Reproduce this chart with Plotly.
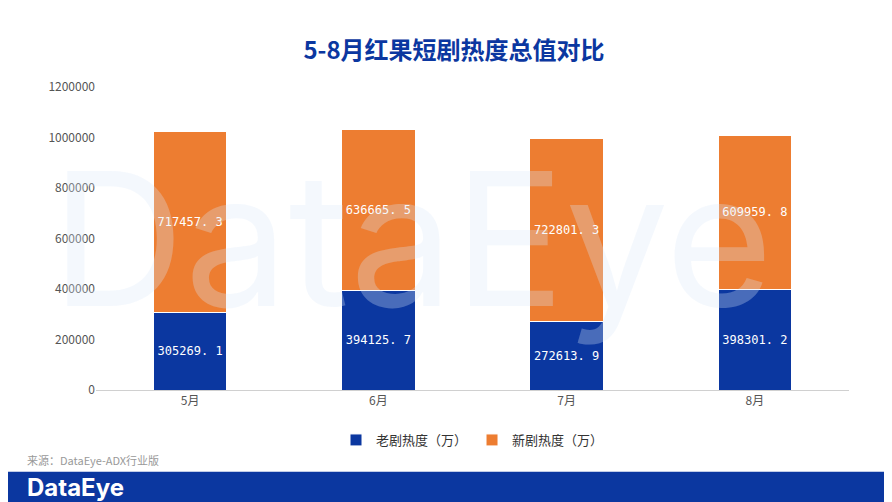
import plotly.graph_objects as go

months = ["5月", "6月", "7月", "8月"]
old_heat = [305269.1, 394125.7, 272613.9, 398301.2]
new_heat = [717457.3, 636665.5, 722801.3, 609959.8]
old_labels = ["305269. 1", "394125. 7", "272613. 9", "398301. 2"]
new_labels = ["717457. 3", "636665. 5", "722801. 3", "609959. 8"]
blue = "#0b37a0"
orange = "#ed7d31"
mono = "DejaVu Sans Mono, monospace"

fig = go.Figure()
fig.add_bar(x=months, y=old_heat, name="老剧热度（万）", marker=dict(color=blue, line=dict(color="white", width=1)),
            text=old_labels, textposition="inside", insidetextanchor="middle", textangle=0,
            textfont=dict(color="white", size=12, family=mono))
fig.add_bar(x=months, y=new_heat, name="新剧热度（万）", marker=dict(color=orange, line=dict(color="white", width=1)),
            text=new_labels, textposition="inside", insidetextanchor="middle", textangle=0,
            textfont=dict(color="white", size=12, family=mono))

fig.update_layout(
    barmode="stack", bargap=0.61, width=892, height=502,
    margin=dict(l=88, r=51, t=79, b=120),
    plot_bgcolor="rgba(0,0,0,0)", paper_bgcolor="white",
    font=dict(family="Noto Sans CJK SC", color="#555555", size=12),
    title=dict(text="<b>5-8月红果短剧热度总值对比</b>", x=0.5, xanchor="center", y=0.916, yanchor="middle",
               font=dict(size=24, color="#0b37a0")),
    legend=dict(orientation="h", traceorder="normal", x=0.5, xanchor="center", y=-0.165, yanchor="middle",
                font=dict(size=13, color="#333")),
    yaxis=dict(range=[0, 1200000], dtick=200000, showgrid=False, tickformat="d", zeroline=False,
               ticks="", tickfont=dict(size=12)),
    xaxis=dict(showline=True, linecolor="#d0d0d0", tickfont=dict(size=12)),
    shapes=[dict(type="rect", xref="paper", yref="paper", x0=-0.2, x1=1.1, y0=-0.45, y1=-0.27,
                 fillcolor=blue, line=dict(width=0), layer="above")],
    annotations=[
        dict(text="DataEye", xref="paper", yref="paper", x=0.42, y=0.5, showarrow=False,
             font=dict(size=185, color="rgba(220,232,248,0.3)", family="Inter")),
        dict(text="来源：DataEye-ADX行业版", xref="paper", yref="paper", x=-0.094, xanchor="left", y=-0.231,
             yanchor="middle", showarrow=False, font=dict(size=11, color="#999999", family="Noto Sans CJK SC")),
        dict(text="<b>DataEye</b>", xref="paper", yref="paper", x=-0.094, xanchor="left", y=-0.323, yanchor="middle",
             showarrow=False, font=dict(size=24, color="white", family="Inter")),
    ],
)
fig.write_html("out.html")
